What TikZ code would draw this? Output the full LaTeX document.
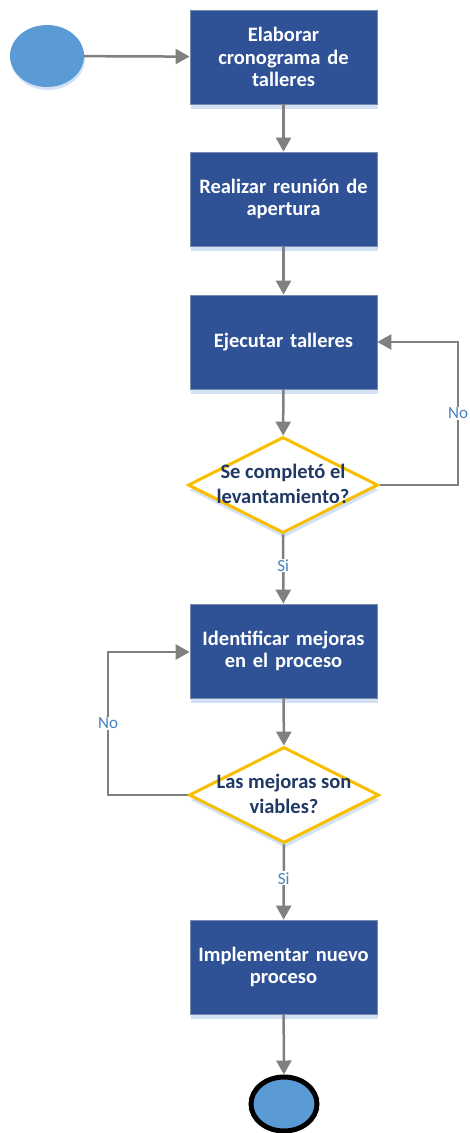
\documentclass[tikz,border=0pt]{standalone}
\usepackage{fontspec}
\setmainfont{Carlito}
\usetikzlibrary{arrows.meta,shapes.geometric,shadows}
\definecolor{boxblue}{RGB}{47,82,150}
\definecolor{boxedge}{RGB}{120,140,175}
\definecolor{shadowblue}{RGB}{210,226,244}
\definecolor{startblue}{RGB}{91,155,213}
\definecolor{gold}{RGB}{250,190,0}
\definecolor{navy}{RGB}{31,56,100}
\definecolor{conn}{RGB}{128,128,128}
\definecolor{lbl}{RGB}{70,130,190}
\tikzset{
  procbox/.style={draw=boxedge, line width=0.8pt, fill=boxblue, minimum width=187pt, minimum height=94pt,
    text width=178pt, inner sep=2pt, align=center, text=white, font=\bfseries\fontsize{20.5}{22.5}\selectfont,
    drop shadow={shadow xshift=1pt, shadow yshift=-5pt, fill=shadowblue, opacity=1}},
  decision/.style={diamond, draw=gold, line width=3pt, fill=white, minimum width=190pt, minimum height=96pt, inner sep=0pt,
    drop shadow={shadow xshift=1pt, shadow yshift=-5pt, fill=shadowblue, opacity=1}},
  dectext/.style={text=navy, align=center, font=\bfseries\fontsize{20.5}{25}\selectfont},
  flow/.style={draw=conn, line width=2.5pt, -{Triangle[length=14pt,width=15pt]}},
  yn/.style={text=lbl, fill=white, font=\fontsize{17}{19}\selectfont, inner sep=1pt},
}
\begin{document}
\begin{tikzpicture}[x=1pt,y=-1pt]
\useasboundingbox (0,0) rectangle (470,1133);
\node[ellipse, fill=startblue, minimum width=74pt, minimum height=62pt,
  drop shadow={shadow xshift=1pt, shadow yshift=-3pt, fill=shadowblue, opacity=1}] (start) at (47,56) {};
\node[procbox] (b1) at (283.5,57) {Elaborar\\cronograma de\\talleres};
\node[procbox] (b2) at (283.5,199) {Realizar reunión de\\apertura};
\node[procbox] (b3) at (283.5,342) {Ejecutar talleres};
\node[decision] (d1) at (283,485) {};
\node[dectext] (d1t) at (283,484) {Se completó el\\levantamiento?};
\node[procbox] (b4) at (283.5,651) {Identificar mejoras\\en el proceso};
\node[decision] (d2) at (284,795) {};
\node[dectext] (d2t) at (284,794) {Las mejoras son\\viables?};
\node[procbox] (b5) at (283.5,967) {Implementar nuevo\\proceso};
\node[ellipse, draw=black, line width=5pt, fill=startblue, minimum width=66pt, minimum height=54pt] (end) at (284,1104) {};

\draw[flow] (start) -- (b1);
\draw[flow] (b1) -- (b2);
\draw[flow] (b2) -- (b3);
\draw[flow] (b3) -- (d1);
\draw[flow] (d1) -- node[yn, pos=0.45] {Si} (b4);
\draw[flow] (b4) -- (d2);
\draw[flow] (d2) -- node[yn, pos=0.45] {Si} (b5);
\draw[flow] (b5) -- (end);
\coordinate (c1a) at (458,485);
\coordinate (c1b) at (458,342);
\draw[flow] (d1.east) -- (c1a) -- node[yn, pos=0.5] {No} (c1b) -- (b3.east);
\coordinate (c2a) at (108,795);
\coordinate (c2b) at (108,652);
\draw[flow] (d2.west) -- (c2a) -- node[yn, pos=0.5] {No} (c2b) -- (b4.west |- c2b);
\end{tikzpicture}
\end{document}
